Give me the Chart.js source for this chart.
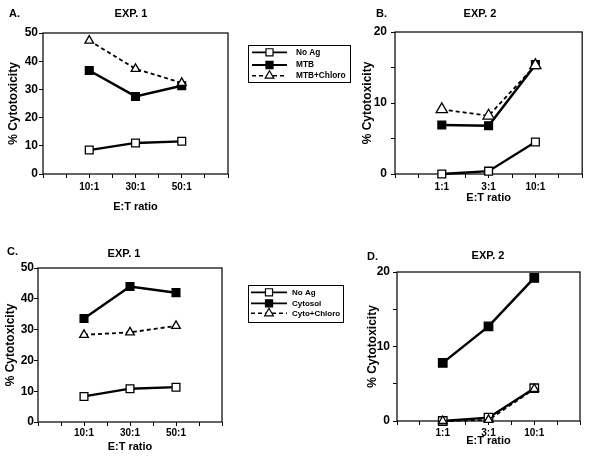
<!DOCTYPE html>
<html>
<head>
<meta charset="utf-8">
<script src="https://cdn.jsdelivr.net/npm/chart.js@4.4.1/dist/chart.umd.min.js"></script>
<style>
  body { margin: 0; background: #fff; }
  #wrap { position: relative; width: 590px; height: 463px; }
  canvas { position: absolute; }
</style>
</head>
<body>
<div id="wrap">
  <canvas id="chartA" width="370" height="225" style="left:0;top:0"></canvas>
  <canvas id="chartB" width="235" height="225" style="left:355px;top:0"></canvas>
  <canvas id="chartC" width="370" height="238" style="left:0;top:225px"></canvas>
  <canvas id="chartD" width="225" height="238" style="left:365px;top:225px"></canvas>
</div>
<script>
// data
const ratiosExp1 = ["10:1", "30:1", "50:1"];
const ratiosExp2 = ["1:1", "3:1", "10:1"];

// A. EXP. 1 (MTB)
const aNoAg = [8.5, 11, 11.6];
const aMtb = [36.7, 27.5, 31.3];
const aMtbChloro = [47.3, 37.3, 32.3];

// B. EXP. 2 (MTB)
const bNoAg = [0, 0.4, 4.5];
const bMtb = [6.9, 6.8, 15.4];
const bMtbChloro = [9.1, 8.2, 15.3];

// C. EXP. 1 (Cytosol)
const cNoAg = [8.3, 10.8, 11.3];
const cCytosol = [33.6, 44, 42];
const cCytoChloro = [28.3, 29.1, 31.2];

// D. EXP. 2 (Cytosol)
const dNoAg = [0, 0.45, 4.4];
const dCytosol = [7.8, 12.7, 19.2];
const dCytoChloro = [0, 0.15, 4.3];

const FONT = "'Liberation Sans', Arial, Helvetica, sans-serif";
Chart.defaults.font.family = FONT;
Chart.defaults.font.weight = "bold";
Chart.defaults.color = "#000";

// categories sit on x = 2, 4, 6 of a 0..8 axis
function toPoints(values) {
  return values.map((v, i) => ({ x: 2 * (i + 1), y: v }));
}

function series(label, values, kind, radius) {
  const s = {
    label: label,
    data: toPoints(values),
    borderColor: "#000",
    pointBorderColor: "#000",
    pointBorderWidth: 1.3,
    pointRadius: radius,
    clip: false,
  };
  if (kind === "open") {
    s.pointStyle = "rect";
    s.pointBackgroundColor = "#fff";
    s.borderWidth = 2.3;
    s.order = 3;
  } else if (kind === "filled") {
    s.pointStyle = "rect";
    s.pointBackgroundColor = "#000";
    s.borderWidth = 2.5;
    s.order = 2;
  } else {
    s.pointStyle = "triangle";
    s.pointBackgroundColor = "#fff";
    s.borderWidth = 1.8;
    s.borderDash = [4, 3];
    s.order = 1;
  }
  return s;
}

function scalesFor(o) {
  return {
    x: {
      type: "linear",
      min: 0,
      max: 8,
      afterFit: (s) => { s.height = o.xh; },
      ticks: {
        stepSize: 1,
        autoSkip: false,
        maxRotation: 0,
        padding: o.xtp,
        color: "#000",
        font: { size: 10, weight: "bold" },
        callback: (v) => (v % 2 === 0 && v > 0 && v < 8 ? o.cats[v / 2 - 1] : ""),
      },
      grid: { drawOnChartArea: false, drawTicks: true, tickLength: 4, color: "#000", lineWidth: 1 },
      border: { display: false },
      title: {
        display: true,
        text: "E:T ratio",
        color: "#000",
        font: { size: 11, weight: "bold" },
        padding: { top: 0, bottom: o.xtb },
      },
    },
    y: {
      min: 0,
      max: o.ymax,
      afterFit: (s) => { s.width = o.yw; },
      ticks: {
        stepSize: o.ystep,
        padding: o.ytp,
        color: "#000",
        font: { size: 12, weight: "bold" },
        callback: (v) => (v % 10 === 0 ? v : ""),
      },
      grid: { drawOnChartArea: false, drawTicks: true, tickLength: 4, color: "#000", lineWidth: 1 },
      border: { display: false },
      title: {
        display: true,
        text: "% Cytotoxicity",
        color: "#000",
        font: { size: 12, weight: "bold" },
        padding: { top: o.ytt, bottom: 0 },
      },
    },
  };
}

// box round the plot area
const plotBoxPlugin = {
  id: "plotBox",
  beforeDatasetsDraw(chart) {
    const { ctx, chartArea: a } = chart;
    ctx.save();
    ctx.strokeStyle = "#111";
    ctx.lineWidth = 1.3;
    ctx.strokeRect(a.left, a.top, a.right - a.left, a.bottom - a.top);
    ctx.restore();
  },
};

// "A." and "EXP. 1"
const panelTextPlugin = {
  id: "panelText",
  afterDraw(chart, args, opts) {
    const ctx = chart.ctx;
    ctx.save();
    ctx.fillStyle = "#000";
    ctx.font = "bold 11px " + FONT;
    ctx.textBaseline = "middle";
    ctx.textAlign = "left";
    ctx.fillText(opts.label, opts.labelX, opts.labelY);
    ctx.textAlign = "center";
    ctx.fillText(opts.title, opts.titleX, opts.titleY);
    ctx.restore();
  },
};

// boxed legend with line + marker samples
const boxLegendPlugin = {
  id: "boxLegend",
  afterDraw(chart, args, opts) {
    if (!opts.display) return;
    const ctx = chart.ctx;
    ctx.save();
    ctx.strokeStyle = "#000";
    ctx.lineWidth = 1;
    ctx.strokeRect(opts.x + 0.5, opts.y + 0.5, opts.w, opts.h);
    chart.data.datasets.forEach((ds, i) => {
      const y = opts.y + opts.rowY[i];
      ctx.save();
      ctx.strokeStyle = "#000";
      ctx.lineWidth = ds.borderDash ? 1.5 : 1.8;
      ctx.setLineDash(ds.borderDash || []);
      ctx.beginPath();
      ctx.moveTo(opts.x + opts.lineX1, y);
      ctx.lineTo(opts.x + opts.lineX2, y);
      ctx.stroke();
      ctx.restore();
      ctx.fillStyle = ds.pointBackgroundColor;
      ctx.strokeStyle = "#000";
      ctx.lineWidth = 1.2;
      Chart.helpers.drawPoint(ctx, {
        pointStyle: ds.pointStyle,
        radius: 5,
        rotation: 0,
        borderWidth: 1.2,
      }, opts.x + (opts.lineX1 + opts.lineX2) / 2, y);
      ctx.fillStyle = "#000";
      ctx.font = "bold " + opts.fontSize + "px " + FONT;
      ctx.textAlign = "left";
      ctx.textBaseline = "middle";
      ctx.fillText(ds.label, opts.x + opts.textX, y);
    });
    ctx.restore();
  },
};

function makeChart(id, datasets, o) {
  return new Chart(document.getElementById(id), {
    type: "line",
    data: { datasets: datasets },
    options: {
      responsive: false,
      animation: false,
      events: [],
      layout: { padding: o.padding },
      scales: scalesFor(o),
      plugins: {
        legend: { display: false },
        tooltip: { enabled: false },
        title: { display: false },
        panelText: o.text,
        boxLegend: o.legend || { display: false },
      },
    },
    plugins: [plotBoxPlugin, panelTextPlugin, boxLegendPlugin],
  });
}

makeChart("chartA", [
  series("No Ag", aNoAg, "open", 5.5),
  series("MTB", aMtb, "filled", 5.5),
  series("MTB+Chloro", aMtbChloro, "tri", 5),
], {
  cats: ratiosExp1, ymax: 50, ystep: 10,
  padding: { left: 0, top: 33, right: 142, bottom: 0 },
  xh: 51, xtp: 3, xtb: 11.4, yw: 43, ytp: 1, ytt: 6.8,
  text: { label: "A.", labelX: 9, labelY: 14, title: "EXP. 1", titleX: 131, titleY: 14 },
  legend: { display: true, x: 248, y: 45, w: 102, h: 37, rowY: [7.3, 20, 30.7], lineX1: 4, lineX2: 39, textX: 48, fontSize: 8.3 },
});

makeChart("chartB", [
  series("No Ag", bNoAg, "open", 5.5),
  series("MTB", bMtb, "filled", 5.5),
  series("MTB+Chloro", bMtbChloro, "tri", 6.5),
], {
  cats: ratiosExp2, ymax: 20, ystep: 5,
  padding: { left: 0, top: 32, right: 7, bottom: 0 },
  xh: 51, xtp: 3, xtb: 20.4, yw: 40, ytp: 4, ytt: 5.8,
  text: { label: "B.", labelX: 21, labelY: 14, title: "EXP. 2", titleX: 125, titleY: 14 },
});

makeChart("chartC", [
  series("No Ag", cNoAg, "open", 5.5),
  series("Cytosol", cCytosol, "filled", 5.5),
  series("Cyto+Chloro", cCytoChloro, "tri", 5),
], {
  cats: ratiosExp1, ymax: 50, ystep: 10,
  padding: { left: 0, top: 43, right: 148, bottom: 0 },
  xh: 41, xtp: 1, xtb: 9.4, yw: 38, ytp: 0, ytt: 3.8,
  text: { label: "C.", labelX: 7, labelY: 27, title: "EXP. 1", titleX: 124, titleY: 29 },
  legend: { display: true, x: 248, y: 60, w: 95, h: 37, rowY: [7.3, 18.3, 28.3], lineX1: 3, lineX2: 39, textX: 44, fontSize: 8 },
});

makeChart("chartD", [
  series("No Ag", dNoAg, "open", 6),
  series("Cytosol", dCytosol, "filled", 6),
  series("Cyto+Chloro", dCytoChloro, "tri", 5),
], {
  cats: ratiosExp2, ymax: 20, ystep: 5,
  padding: { left: 0, top: 47, right: 10, bottom: 0 },
  xh: 42, xtp: 2, xtb: 15.4, yw: 32, ytp: 3, ytt: 0.8,
  text: { label: "D.", labelX: 2, labelY: 32, title: "EXP. 2", titleX: 123, titleY: 31 },
});
</script>
</body>
</html>
